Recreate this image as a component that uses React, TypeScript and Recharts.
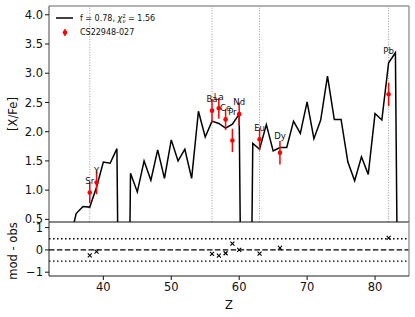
import {
  ComposedChart,
  Line,
  Scatter,
  ErrorBar,
  XAxis,
  YAxis,
  ReferenceLine,
  Legend,
} from "recharts";

// model abundance pattern, one value per Z (-10 = no model value, drops off the plot)
const Z_MODEL = [
  35, 36, 37, 38, 39, 40, 41, 42, 43, 44, 45, 46, 47, 48, 49, 50, 51, 52, 53,
  54, 55, 56, 57, 58, 59, 60, 61, 62, 63, 64, 65, 66, 67, 68, 69, 70, 71, 72,
  73, 74, 75, 76, 77, 78, 79, 80, 81, 82, 83, 84,
];
const MODEL = [
  0.1, 0.6, 0.72, 0.71, 1.05, 1.48, 1.46, 1.71, -10, 1.29, 0.97, 1.5, 1.17,
  1.69, 1.2, 1.86, 1.5, 1.7, 1.2, 2.35, 1.91, 2.18, 2.14, 2.06, 2.13, 2.3, -10,
  1.8, 1.7, 2.12, 1.67, 1.73, 1.73, 2.18, 1.97, 2.51, 1.88, 2.2, 2.95, 2.21,
  2.21, 1.48, 1.16, 1.57, 1.27, 2.31, 2.2, 3.18, 3.35, -10,
];

// observed abundances of CS22948-027
const ELEMENTS = ["Sr", "Y", "Ba", "La", "Ce", "Pr", "Nd", "Eu", "Dy", "Pb"];
const Z_OBS = [38, 39, 56, 57, 58, 59, 60, 63, 66, 82];
const OBS = [0.96, 1.13, 2.36, 2.4, 2.21, 1.85, 2.3, 1.87, 1.64, 2.64];
const ERR = [0.18, 0.2, 0.2, 0.18, 0.18, 0.2, 0.2, 0.19, 0.2, 0.2];

const Z_MARKS = [38, 56, 63, 82];
const TICKS_TOP = [0.5, 1, 1.5, 2, 2.5, 3, 3.5, 4];
const TICKS_RES = [-1, 0, 1];
const TICKS_Z = [40, 50, 60, 70, 80];

const modelData = Z_MODEL.map((z, i) => ({ z, model: MODEL[i] }));
const modelAt = (z: number) => MODEL[Z_MODEL.indexOf(z)];
const obsData = Z_OBS.map((z, i) => ({
  z,
  el: ELEMENTS[i],
  obs: OBS[i],
  err: ERR[i],
  labelY: Math.max(OBS[i], modelAt(z)) + 0.2,
  resid: modelAt(z) - OBS[i],
}));

const FONT = "'DejaVu Sans', sans-serif";
const tickStyle = { fill: "#111", fontSize: 11.5 };

const RedDot = (p: any) => <circle cx={p.cx} cy={p.cy} r={2.3} fill="#ff0000" />;

const ElementLabel = (p: any) => (
  <text
    x={p.cx}
    y={p.cy}
    textAnchor="middle"
    dominantBaseline="central"
    fontSize={8.5}
    fill="#111"
  >
    {p.payload.el}
  </text>
);

const Cross = (p: any) => (
  <g stroke="#000" strokeWidth={1.1}>
    <line x1={p.cx - 2} y1={p.cy - 2} x2={p.cx + 2} y2={p.cy + 2} />
    <line x1={p.cx - 2} y1={p.cy + 2} x2={p.cx + 2} y2={p.cy - 2} />
  </g>
);

const sideLabel = (text: string, shift: number) => (props: any) => {
  const vb = props.viewBox || {};
  const cy = (vb.y ?? 0) + (vb.height ?? 0) / 2 + shift;
  return (
    <text
      transform={`translate(12.5, ${cy}) rotate(-90)`}
      textAnchor="middle"
      dominantBaseline="central"
      fontSize={11.5}
      fill="#111"
    >
      {text}
    </text>
  );
};

const LegendBox = () => (
  <svg width={175} height={45} style={{ display: "block", fontFamily: FONT }}>
    <line x1={56} x2={73} y1={18} y2={18} stroke="#000" strokeWidth={1.5} />
    <text x={80} y={21} fontSize={8} fill="#111">
      f = 0.78, <tspan fontStyle="italic">χ</tspan>
      <tspan fontSize={5.5} dy={-3.2}>
        2
      </tspan>
      <tspan fontSize={5.5} fontStyle="italic" dx={-3.3} dy={5.5}>
        ν
      </tspan>
      <tspan dy={-2.3}> = 1.56</tspan>
    </text>
    <line x1={65} x2={65} y1={29} y2={36} stroke="#ff0000" strokeWidth={1.5} />
    <circle cx={65} cy={32.5} r={2.3} fill="#ff0000" />
    <text x={80} y={35.3} fontSize={8} fill="#111">
      CS22948-027
    </text>
  </svg>
);

export default function App() {
  return (
    <div
      style={{
        position: "absolute",
        left: 0,
        top: 0,
        width: 415,
        height: 317,
        background: "#fff",
        fontFamily: FONT,
      }}
    >
      <div style={{ position: "absolute", left: 0, top: 0 }}>
        <ComposedChart
          width={415}
          height={230}
          margin={{ top: 6, right: 6, bottom: 8, left: 0 }}
        >
          <XAxis
            type="number"
            dataKey="z"
            domain={[32, 85]}
            allowDataOverflow
            ticks={TICKS_Z}
            height={0}
            tick={false}
            tickLine={false}
            axisLine={{ stroke: "#111" }}
          />
          <YAxis
            type="number"
            domain={[0.455, 4.15]}
            allowDataOverflow
            ticks={TICKS_TOP}
            interval={0}
            tickFormatter={(v: number) => v.toFixed(1)}
            width={49}
            tickSize={4}
            tickMargin={2}
            tick={tickStyle}
            tickLine={{ stroke: "#111" }}
            axisLine={{ stroke: "#444" }}
            label={{ content: sideLabel("[X/Fe]", 0) }}
          />
          {Z_MARKS.map((z) => (
            <ReferenceLine
              key={z}
              x={z}
              stroke="#999"
              strokeDasharray="1 1.6"
              strokeWidth={1}
            />
          ))}
          <ReferenceLine y={4.15} stroke="#999" strokeWidth={1.5} />
          <ReferenceLine x={85} stroke="#999" strokeWidth={1.5} />
          <Line
            data={modelData}
            dataKey="model"
            stroke="#000"
            strokeWidth={1.5}
            dot={false}
            isAnimationActive={false}
          />
          <Scatter
            data={obsData}
            dataKey="obs"
            shape={RedDot}
            isAnimationActive={false}
          >
            <ErrorBar
              dataKey="err"
              direction="y"
              width={0}
              stroke="#ff0000"
              strokeWidth={1.5}
            />
          </Scatter>
          <Scatter
            data={obsData}
            dataKey="labelY"
            shape={ElementLabel}
            isAnimationActive={false}
          />
          <Legend
            layout="vertical"
            align="center"
            verticalAlign="middle"
            content={LegendBox}
            wrapperStyle={{ top: 0, left: 0, width: 175, height: 45 }}
          />
        </ComposedChart>
      </div>

      <div style={{ position: "absolute", left: 0, top: 212 }}>
        <ComposedChart
          width={415}
          height={105}
          margin={{ top: 10, right: 6, bottom: 0, left: 0 }}
        >
          <XAxis
            type="number"
            dataKey="z"
            domain={[32, 85]}
            allowDataOverflow
            ticks={TICKS_Z}
            interval={0}
            height={41}
            tickSize={4}
            tickMargin={3}
            tick={tickStyle}
            tickLine={{ stroke: "#111" }}
            axisLine={{ stroke: "#222" }}
            label={{
              value: "Z",
              position: "insideBottom",
              offset: 8,
              fontSize: 11.5,
              fill: "#111",
            }}
          />
          <YAxis
            type="number"
            domain={[-1.17, 1.25]}
            allowDataOverflow
            ticks={TICKS_RES}
            interval={0}
            tickFormatter={(v: number) => (v < 0 ? `−${-v}` : `${v}`)}
            width={49}
            tickSize={4}
            tickMargin={2}
            tick={tickStyle}
            tickLine={{ stroke: "#111" }}
            axisLine={{ stroke: "#222" }}
            label={{ content: sideLabel("mod - obs", 2) }}
          />
          <ReferenceLine y={1.25} stroke="#111" strokeWidth={1.2} />
          <ReferenceLine y={0} stroke="#000" strokeWidth={1.3} strokeDasharray="5.5 2.4" />
          <ReferenceLine y={0.5} stroke="#000" strokeWidth={1.3} strokeDasharray="1.5 2.5" />
          <ReferenceLine y={-0.5} stroke="#000" strokeWidth={1.3} strokeDasharray="1.5 2.5" />
          <ReferenceLine x={85} stroke="#999" strokeWidth={1.5} />
          <Scatter
            data={obsData}
            dataKey="resid"
            shape={Cross}
            isAnimationActive={false}
          />
        </ComposedChart>
      </div>
    </div>
  );
}
